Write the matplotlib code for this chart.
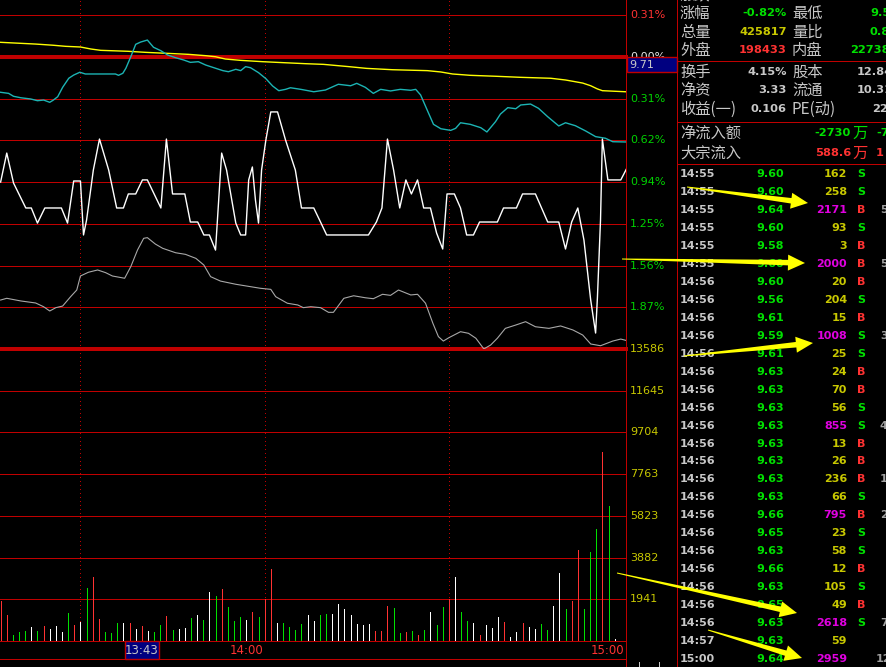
import numpy as np
import matplotlib
matplotlib.use("Agg")
import matplotlib.pyplot as plt
from matplotlib.patches import Polygon, Rectangle
from matplotlib.transforms import blended_transform_factory as blend

W, H = 887, 667
CJK = ['Noto Sans CJK SC', 'DejaVu Sans']

## intraday lines: minutes after 13:20, % change vs prev close 9.71
avg_t = [0, 5.7, 8.6, 10.6, 13.0, 14.7, 16.3, 20.7, 23.6, 26.9, 30.6, 33.4, 35.0, 36.6,
         39.1, 42.7, 46.4, 49.7, 52.6, 56.7, 59.6, 63.8, 69.5, 71.7, 73.6, 76.5, 80.6,
         84.7, 89.6, 92.0, 93.6, 94.8, 96.1, 97.2, 98.0, 101.8]
avg_p = [0.108, 0.095, 0.086, 0.078, 0.073, 0.058, 0.048, 0.041, 0.033, 0.026, 0.018,
         0.008, 0.000, -0.017, -0.027, -0.037, -0.045, -0.052, -0.057, -0.074, -0.087,
         -0.097, -0.104, -0.114, -0.129, -0.139, -0.146, -0.154, -0.161, -0.174, -0.187,
         -0.197, -0.217, -0.241, -0.254, -0.262]

cyan_t = [0, 1.3, 2.1, 3.3, 4.9, 6.0, 7.0, 8.0, 8.6, 9.3, 10.1, 11.1, 11.9, 12.9, 13.8,
          18.7, 19.2, 19.9, 20.4, 21.2, 22.0, 22.8, 23.9, 24.9, 26.1, 27.2, 28.5, 29.8,
          30.9, 32.2, 33.4, 35.0, 36.2, 37.1, 38.3, 39.1, 39.9, 40.7, 42.0, 43.2, 44.3,
          45.3, 46.4, 47.2, 48.9, 51.0, 52.9, 55.0, 57.0, 58.0, 59.4, 60.7, 61.9, 63.5,
          65.1, 66.8, 67.6, 68.4, 69.7, 70.5, 71.7, 73.3, 74.1, 74.9, 76.5, 78.2, 79.2,
          80.6, 81.4, 82.6, 83.9, 84.7, 86.3, 87.6, 89.1, 90.9, 92.0, 93.6, 95.3, 96.9,
          98.5, 99.7, 102.0]
cyan_p = [-0.266, -0.274, -0.296, -0.307, -0.316, -0.329, -0.324, -0.341, -0.324, -0.299,
          -0.229, -0.161, -0.137, -0.116, -0.129, -0.129, -0.139, -0.124, -0.086, 0.000,
          0.093, 0.110, 0.125, 0.071, 0.045, 0.013, -0.007, -0.024, -0.042, -0.037, -0.062,
          -0.086, -0.104, -0.112, -0.094, -0.104, -0.074, -0.082, -0.119, -0.164, -0.219,
          -0.254, -0.244, -0.232, -0.244, -0.262, -0.249, -0.206, -0.217, -0.199, -0.229,
          -0.274, -0.244, -0.256, -0.244, -0.251, -0.244, -0.286, -0.423, -0.506, -0.539,
          -0.551, -0.536, -0.494, -0.506, -0.531, -0.563, -0.486, -0.429, -0.381, -0.389,
          -0.361, -0.354, -0.386, -0.449, -0.518, -0.494, -0.516, -0.556, -0.598, -0.610,
          -0.636, -0.638]

white_t = [0, 1.0, 2.1, 4.1, 5.0, 6.0, 7.2, 9.9, 10.9, 11.9, 13.0, 13.5, 14.0, 15.1, 16.1,
           17.6, 18.9, 20.0, 20.8, 22.0, 23.1, 23.9, 26.1, 27.0, 28.0, 30.0, 30.9, 32.1,
           33.1, 34.0, 35.0, 36.0, 36.8, 38.3, 39.1, 39.9, 40.4, 41.0, 41.5, 42.0, 42.5,
           43.2, 44.0, 45.1, 46.4, 48.0, 49.0, 51.0, 52.1, 53.1, 59.9, 61.2, 62.1, 63.0,
           64.0, 65.0, 66.0, 66.9, 67.9, 68.9, 70.0, 71.0, 72.0, 72.7, 73.9, 74.9, 75.9,
           77.0, 78.0, 80.9, 81.9, 84.0, 85.0, 87.1, 89.1, 90.9, 92.0, 93.0, 94.0, 95.0,
           96.1, 96.9, 97.2, 97.7, 98.0, 98.9, 101.0, 102.0]
white_p = [-0.938, -0.721, -0.945, -1.132, -1.132, -1.245, -1.132, -1.132, -1.245, -0.930,
           -0.930, -1.334, -1.222, -0.848, -0.616, -0.848, -1.132, -1.132, -1.027, -1.027,
           -0.922, -0.922, -1.132, -0.616, -1.027, -1.027, -1.237, -1.237, -1.334, -1.334,
           -1.447, -0.721, -0.848, -1.245, -1.334, -1.334, -0.922, -0.825, -1.072, -1.245,
           -0.848, -0.623, -0.413, -0.413, -0.623, -0.848, -1.132, -1.132, -1.237, -1.334,
           -1.334, -1.237, -1.132, -0.616, -0.848, -1.132, -0.922, -1.027, -0.922, -1.132,
           -1.132, -1.319, -1.439, -1.027, -1.027, -1.132, -1.334, -1.334, -1.237, -1.237,
           -1.132, -1.132, -1.027, -1.027, -1.237, -1.237, -1.439, -1.237, -1.132, -1.372,
           -1.821, -2.068, -1.798, -1.222, -0.616, -0.922, -0.922, -0.833]

grey_t = [0, 1.0, 3.3, 5.7, 7.0, 8.0, 9.0, 10.1, 11.4, 12.4, 13.0, 14.3, 15.8, 17.1, 18.2,
          20.2, 21.2, 22.3, 23.3, 23.9, 25.2, 26.4, 28.5, 30.1, 31.8, 33.1, 34.2, 35.8,
          38.3, 40.7, 42.3, 44.0, 44.8, 46.7, 48.4, 49.3, 50.5, 52.1, 53.4, 54.2, 55.9,
          57.5, 59.4, 60.7, 62.2, 63.5, 64.8, 66.8, 67.9, 69.2, 70.4, 71.3, 72.1, 73.0,
          74.9, 76.2, 77.4, 78.7, 79.8, 80.9, 82.2, 83.9, 85.5, 87.1, 89.3, 91.2, 93.2,
          94.8, 96.1, 97.7, 99.7, 101.0, 102.0]
grey_p = [-1.821, -1.808, -1.828, -1.843, -1.871, -1.903, -1.878, -1.866, -1.796, -1.746,
          -1.641, -1.613, -1.596, -1.616, -1.641, -1.658, -1.571, -1.446, -1.359, -1.354,
          -1.402, -1.434, -1.467, -1.479, -1.509, -1.559, -1.646, -1.679, -1.703, -1.721,
          -1.733, -1.741, -1.796, -1.845, -1.858, -1.878, -1.871, -1.878, -1.913, -1.913,
          -1.808, -1.789, -1.804, -1.811, -1.778, -1.786, -1.746, -1.783, -1.778, -1.845,
          -1.995, -2.095, -2.128, -2.103, -2.058, -2.070, -2.107, -2.187, -2.158, -2.107,
          -2.033, -2.008, -1.983, -2.021, -2.033, -2.015, -2.045, -2.083, -2.150, -2.163,
          -2.128, -2.113, -2.125]

## one volume bar per minute (13:20 .. 15:00), r/g/w colour code
vol = [1860, 1210, 280, 420, 465, 650, 465, 700, 560, 700,
       420, 1300, 745, 885, 2465, 2980, 1025, 420, 370, 840,
       840, 840, 560, 700, 465, 420, 745, 1165, 510, 560,
       605, 1070, 1210, 975, 2280, 2090, 2420, 1580, 930, 1115,
       975, 1350, 1115, 1955, 3350, 840, 840, 650, 510, 790,
       1210, 930, 1210, 1255, 1255, 1720, 1490, 1210, 790, 745,
       790, 465, 465, 1630, 1535, 370, 420, 465, 280, 510,
       1350, 745, 1580, 1955, 2980, 1350, 930, 840, 280, 745,
       605, 1115, 885, 185, 420, 840, 650, 560, 790, 510,
       1630, 3160, 1490, 1860, 4230, 1490, 4140, 5210, 8790, 6280,
       95]
vol_col = ("rrgggwgrww" "wgrwgrrggg" "wrwrwggrgw" "wgwgwgrggg" "wrgrrwgggg"
           "wwggwwwwww" "wrrrggrgrg" "wggrwggwrw" "wwrwwrwwgg" "wwgrrgggrg" "w")

pct_ticks = [0.3125, 0.0, -0.3125, -0.625, -0.9375, -1.25, -1.5625, -1.875]
pct_labels = ['0.31%', '0.00%', '0.31%', '0.62%', '0.94%', '1.25%', '1.56%', '1.87%']
vol_ticks = [13586, 11645, 9704, 7763, 5823, 3882, 1941]
dotted_t = [13, 43, 73]
time_ticks = [40, 100]
time_labels = ['14:00', '15:00']

## info panel
info_y = [13, 32, 50, 72, 90, 109]
info_l1 = ['涨幅', '总量', '外盘', '换手', '净资', '收益(一)']
info_v1 = ['-0.82%', '425817', '198433', '4.15%', '3.33', '0.106']
info_c1 = ['g', 'y', 'r', 'w', 'w', 'w']
info_l2 = ['最低', '量比', '内盘', '股本', '流通', 'PE(动)']
info_v2 = ['9.58', '0.86', '227384', '12.84亿', '10.31亿', '22.65']
info_c2 = ['g', 'g', 'g', 'w', 'w', 'w']
info_x2 = [870, 870, 850, 857, 857, 872]

flow_labels = ['净流入额', '大宗流入']
flow_vals = ['-2730', '588.6']
flow_more = ['-7', '1']
flow_c = ['g', 'r']

## tick-by-tick trades
tr_time = ['14:55'] * 6 + ['14:56'] * 20 + ['14:57', '15:00']
tr_price = [9.60, 9.60, 9.64, 9.60, 9.58, 9.60, 9.60, 9.56, 9.61, 9.59, 9.61, 9.63, 9.63, 9.63,
            9.63, 9.63, 9.63, 9.63, 9.63, 9.66, 9.65, 9.63, 9.66, 9.63, 9.65, 9.63, 9.63, 9.64]
tr_vol = [162, 258, 2171, 93, 3, 2000, 20, 204, 15, 1008, 25, 24, 70, 56, 855, 13, 26, 236,
          66, 795, 23, 58, 12, 105, 49, 2618, 59, 2959]
tr_side = ['S', 'S', 'B', 'S', 'B', 'B', 'B', 'S', 'B', 'S', 'S', 'B', 'B', 'S', 'S', 'B',
           'B', 'B', 'S', 'B', 'S', 'S', 'B', 'S', 'B', 'S', '', '']
far_rows = [2, 5, 9, 14, 17, 19, 25, 27]
far_text = ['5', '5', '3', '4', '1', '2', '7', '12']

## colours
RED = '#ff3232'
GRN = '#00e000'
YEL = '#c8c800'
MAG = '#e000e0'
GRY = '#c8c8c8'
GRID = '#c00000'
CMAP = {'r': RED, 'g': GRN, 'w': '#ffffff', 'y': YEL}
CMAP_T = {'r': RED, 'g': GRN, 'w': GRY, 'y': YEL}

fig = plt.figure(figsize=(W / 100, H / 100), dpi=100, facecolor='black')
X0, X1 = -0.1, 101.85

# price panel
ax_p = fig.add_axes([0, 1 - 349 / H, 626 / W, 349 / H])
ax_p.set_xlim(X0, X1)
ax_p.set_ylim(-2.1875, 0.4248)
ax_p.axis('off')
for k in range(-7, 2):
    v = 0.3125 * k
    thick = k in (0, -7)
    ax_p.axhline(v, color=GRID, lw=1.6 if thick else 0.72, clip_on=False,
                 antialiased=False, zorder=1)
for m in dotted_t:
    ax_p.axvline(m, color=GRID, lw=0.72, ls=(0, (1, 3)), antialiased=False, zorder=1)
ax_p.plot(avg_t, avg_p, color='#ffff00', lw=1.0, zorder=3)
ax_p.plot(cyan_t, cyan_p, color='#1cb4b4', lw=1.0, zorder=3)
ax_p.plot(white_t, white_p, color='#ffffff', lw=1.0, zorder=3)
ax_p.plot(grey_t, grey_p, color='#a8a8a8', lw=0.8, zorder=3)

tp = blend(ax_p.transAxes, ax_p.transData)
for v, s in zip(pct_ticks, pct_labels):
    c = RED if v > 0 else ('#e8e8e8' if v == 0 else '#00d200')
    ax_p.text(630 / 626, v, s, transform=tp, color=c, fontsize=8,
              ha='left', va='center', family='DejaVu Sans')

# volume panel
ax_v = fig.add_axes([0, 26 / H, 626 / W, 292 / H])
ax_v.set_xlim(X0, X1)
ax_v.set_ylim(0, vol_ticks[0])
ax_v.axis('off')
for v in vol_ticks[1:] + [0]:
    ax_v.axhline(v, color=GRID, lw=0.72, antialiased=False, clip_on=False, zorder=1)
for m in dotted_t:
    ax_v.axvline(m, color=GRID, lw=0.72, ls=(0, (1, 3)), antialiased=False, zorder=1)
ax_v.vlines(np.arange(len(vol)), 0, vol, colors=[CMAP[c] for c in vol_col],
            lw=0.72, antialiased=False, zorder=2)
tv = blend(ax_v.transAxes, ax_v.transData)
for v in vol_ticks:
    ax_v.text(630 / 626, v, str(v), transform=tv, color=YEL, fontsize=8,
              ha='left', va='center', family='DejaVu Sans')
tt = blend(ax_v.transData, ax_v.transAxes)
ax_v.text(time_ticks[0], -9 / 292, time_labels[0], transform=tt, color=RED,
          fontsize=8.5, ha='center', va='center')
ax_v.text(1 - 2 / 626, -9 / 292, time_labels[1], transform=ax_v.transAxes, color=RED,
          fontsize=8.5, ha='right', va='center')

# overlay in pixel coordinates for frame, right panel and arrows
ov = fig.add_axes([0, 0, 1, 1], zorder=5)
ov.set_xlim(0, W)
ov.set_ylim(H, 0)
ov.axis('off')
ov.vlines([626.5, 677], 0, H, color=GRID, lw=0.72, antialiased=False)
ov.hlines(659, 0, 626.5, color=GRID, lw=0.72, antialiased=False)
ov.hlines([61, 122, 164], 677, W, color=GRID, lw=0.72, antialiased=False)
ov.vlines([639, 659], 662, H, color=GRY, lw=0.72, antialiased=False)

# prev-close box and cursor time box
ov.add_patch(Rectangle((627, 57), 50, 15, fc='#000080', ec=GRID, lw=1.0, zorder=6))
ov.text(629, 64.5, '9.71', color=GRY, fontsize=8, ha='left', va='center', zorder=7)
ov.add_patch(Rectangle((125, 641), 34, 18, fc='#000080', ec=GRID, lw=1.0, zorder=6))
ov.text(142, 650, '13:43', color=GRY, fontsize=8.5, ha='center', va='center', zorder=7)

# info block
ov.text(680, -5, '涨跌', color=GRY, fontsize=11, family=CJK, ha='left', va='center')
ov.text(792, -5, '最高', color=GRY, fontsize=11, family=CJK, ha='left', va='center')
for i, y in enumerate(info_y):
    ov.text(680, y, info_l1[i], color=GRY, fontsize=11, family=CJK, ha='left', va='center')
    ov.text(787, y, info_v1[i], color=CMAP_T[info_c1[i]], fontsize=8.2, weight='bold',
            family=['DejaVu Sans', 'Noto Sans CJK SC'], ha='right', va='center')
    ov.text(792, y, info_l2[i], color=GRY, fontsize=11, family=CJK, ha='left', va='center')
    ov.text(info_x2[i], y, info_v2[i], color=CMAP_T[info_c2[i]], fontsize=8.2,
            weight='bold', family=['DejaVu Sans', 'Noto Sans CJK SC'],
            ha='left', va='center')
for i, y in enumerate([133, 153]):
    c = CMAP_T[flow_c[i]]
    ov.text(680, y, flow_labels[i], color=GRY, fontsize=11, family=CJK, ha='left', va='center')
    ov.text(851, y, flow_vals[i], color=c, fontsize=8.2, weight='bold', ha='right', va='center')
    ov.text(852, y, '万', color=c, fontsize=11, family=CJK, ha='left', va='center')
    ov.text(876, y, flow_more[i], color=c, fontsize=8.2, weight='bold', ha='left', va='center')

# trade list
for i in range(len(tr_time)):
    y = 174.3 + 17.95 * i
    ov.text(680, y, tr_time[i], color=GRY, fontsize=8, weight='bold', ha='left', va='center')
    ov.text(784, y, f'{tr_price[i]:.2f}', color=GRN, fontsize=8, weight='bold',
            ha='right', va='center')
    ov.text(847, y, str(tr_vol[i]), color=MAG if tr_vol[i] >= 500 else YEL, fontsize=8,
            weight='bold', ha='right', va='center')
    if tr_side[i]:
        ov.text(857, y, tr_side[i], color=RED if tr_side[i] == 'B' else GRN, fontsize=8,
                weight='bold', ha='left', va='center')
for r, s in zip(far_rows, far_text):
    ov.text(880 if len(s) == 1 else 876, 174.3 + 17.95 * r, s, color='#a0a0a0',
            fontsize=8, weight='bold', ha='left', va='center')


def arrow(x0, y0, x1, y1, hl=17, hw=16, sw=5.5, tw=1.0):
    d = np.array([x1 - x0, y1 - y0], float)
    d /= np.hypot(*d)
    n = np.array([-d[1], d[0]])
    p0 = np.array([x0, y0], float)
    p1 = np.array([x1, y1], float)
    b = p1 - d * hl
    pts = [p0 + n * tw / 2, b + n * sw / 2, b + n * hw / 2, p1,
           b - n * hw / 2, b - n * sw / 2, p0 - n * tw / 2]
    ov.add_patch(Polygon(pts, closed=True, fc='#ffff00', ec='none', zorder=20))


arrow(687, 187, 808, 203)
arrow(622, 259, 805, 263)
arrow(684, 356, 813, 343)
arrow(617, 573, 797, 613)
arrow(708, 630, 802, 658)

fig.savefig('out.png', dpi=100, facecolor='black')
